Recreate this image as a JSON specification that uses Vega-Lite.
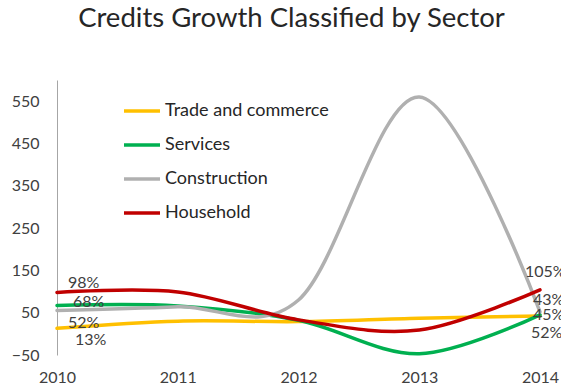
{
  "$schema": "https://vega.github.io/schema/vega-lite/v6.json",
  "width": 483,
  "height": 275,
  "autosize": {"type": "none"},
  "padding": {"left": 57, "top": 80, "right": 21, "bottom": 33},
  "background": "white",
  "config": {
    "view": {"stroke": null},
    "font": "Lato",
    "text": {"font": "Lato", "fontSize": 16, "color": "#404040"}
  },
  "title": {
    "text": "Credits Growth Classified by Sector",
    "font": "Lato",
    "fontSize": 27.5,
    "fontWeight": "normal",
    "color": "#262626",
    "anchor": "middle",
    "frame": "group",
    "baseline": "alphabetic",
    "offset": 26,
    "dx": -7
  },
  "data": {
    "values": [
      {"year": 2010, "sector": "Trade and commerce", "value": 13, "label": "13%"},
      {"year": 2011, "sector": "Trade and commerce", "value": 30},
      {"year": 2012, "sector": "Trade and commerce", "value": 29},
      {"year": 2013, "sector": "Trade and commerce", "value": 37},
      {"year": 2014, "sector": "Trade and commerce", "value": 42, "label": "52%"},
      {"year": 2010, "sector": "Services", "value": 67, "label": "68%"},
      {"year": 2011, "sector": "Services", "value": 66},
      {"year": 2012, "sector": "Services", "value": 32},
      {"year": 2013, "sector": "Services", "value": -47},
      {"year": 2014, "sector": "Services", "value": 45, "label": "45%"},
      {"year": 2010, "sector": "Construction", "value": 55, "label": "52%"},
      {"year": 2011, "sector": "Construction", "value": 64},
      {"year": 2012, "sector": "Construction", "value": 80},
      {"year": 2013, "sector": "Construction", "value": 560},
      {"year": 2014, "sector": "Construction", "value": 52, "label": "43%"},
      {"year": 2010, "sector": "Household", "value": 98, "label": "98%"},
      {"year": 2011, "sector": "Household", "value": 99},
      {"year": 2012, "sector": "Household", "value": 33},
      {"year": 2013, "sector": "Household", "value": 9},
      {"year": 2014, "sector": "Household", "value": 104, "label": "105%"}
    ]
  },
  "encoding": {
    "x": {
      "field": "year",
      "type": "quantitative",
      "scale": {"domain": [2010, 2014], "nice": false, "zero": false},
      "axis": {
        "title": null,
        "values": [2010, 2011, 2012, 2013, 2014],
        "format": "d",
        "domain": false,
        "ticks": false,
        "grid": false,
        "labelFont": "Lato",
        "labelFontSize": 16,
        "labelColor": "#404040",
        "labelPadding": 14,
        "labelFlush": false
      }
    },
    "y": {
      "field": "value",
      "type": "quantitative",
      "scale": {"domain": [-50, 600], "nice": false, "zero": false},
      "axis": {
        "title": null,
        "values": [-50, 50, 150, 250, 350, 450, 550],
        "domainColor": "#A6A6A6",
        "domainWidth": 1,
        "ticks": false,
        "grid": false,
        "labelFont": "Lato",
        "labelFontSize": 16,
        "labelColor": "#404040",
        "labelPadding": 18
      }
    }
  },
  "layer": [
    {
      "data": {"values": [{"y0": 0}]},
      "mark": {"type": "rule", "color": "#A6A6A6", "strokeWidth": 1.5},
      "encoding": {
        "y": {"field": "y0", "type": "quantitative"},
        "x": {"datum": 2010},
        "x2": {"datum": 2014}
      }
    },
    {
      "mark": {"type": "line", "interpolate": "cardinal", "strokeWidth": 3.5, "strokeCap": "round"},
      "encoding": {
        "color": {
          "field": "sector",
          "type": "nominal",
          "scale": {
            "domain": ["Trade and commerce", "Services", "Construction", "Household"],
            "range": ["#FFC000", "#00B050", "#B0B0B0", "#C00000"]
          },
          "legend": {
            "title": null,
            "orient": "none",
            "legendX": 65,
            "legendY": 21,
            "symbolType": "stroke",
            "symbolSize": 1296,
            "symbolStrokeWidth": 3.5,
            "clipHeight": 20,
            "rowPadding": 14,
            "padding": 0,
            "labelOffset": 3,
            "labelFont": "Lato",
            "labelFontSize": 18,
            "labelColor": "#262626",
            "labelLimit": 300
          }
        },
        "detail": {"field": "sector"}
      }
    },
    {
      "transform": [{"filter": "datum.label == '98%'"}],
      "mark": {"type": "text", "align": "left", "baseline": "middle", "dx": 11, "dy": -9},
      "encoding": {"text": {"field": "label"}}
    },
    {
      "transform": [{"filter": "datum.label == '68%'"}],
      "mark": {"type": "text", "align": "left", "baseline": "middle", "dx": 16, "dy": -4},
      "encoding": {"text": {"field": "label"}}
    },
    {
      "transform": [{"filter": "datum.year == 2010 && datum.sector == 'Construction'"}],
      "mark": {"type": "text", "align": "left", "baseline": "middle", "dx": 11, "dy": 12},
      "encoding": {"text": {"field": "label"}}
    },
    {
      "transform": [{"filter": "datum.label == '13%'"}],
      "mark": {"type": "text", "align": "left", "baseline": "middle", "dx": 18, "dy": 12},
      "encoding": {"text": {"field": "label"}}
    },
    {
      "transform": [{"filter": "datum.label == '105%'"}],
      "mark": {"type": "text", "align": "left", "baseline": "middle", "dx": -15, "dy": -18},
      "encoding": {"text": {"field": "label"}}
    },
    {
      "transform": [{"filter": "datum.label == '43%'"}],
      "mark": {"type": "text", "align": "left", "baseline": "middle", "dx": -7, "dy": -12},
      "encoding": {"text": {"field": "label"}}
    },
    {
      "transform": [{"filter": "datum.label == '45%'"}],
      "mark": {"type": "text", "align": "left", "baseline": "middle", "dx": -7, "dy": 0},
      "encoding": {"text": {"field": "label"}}
    },
    {
      "transform": [{"filter": "datum.year == 2014 && datum.sector == 'Trade and commerce'"}],
      "mark": {"type": "text", "align": "left", "baseline": "middle", "dx": -9, "dy": 17},
      "encoding": {"text": {"field": "label"}}
    }
  ]
}
